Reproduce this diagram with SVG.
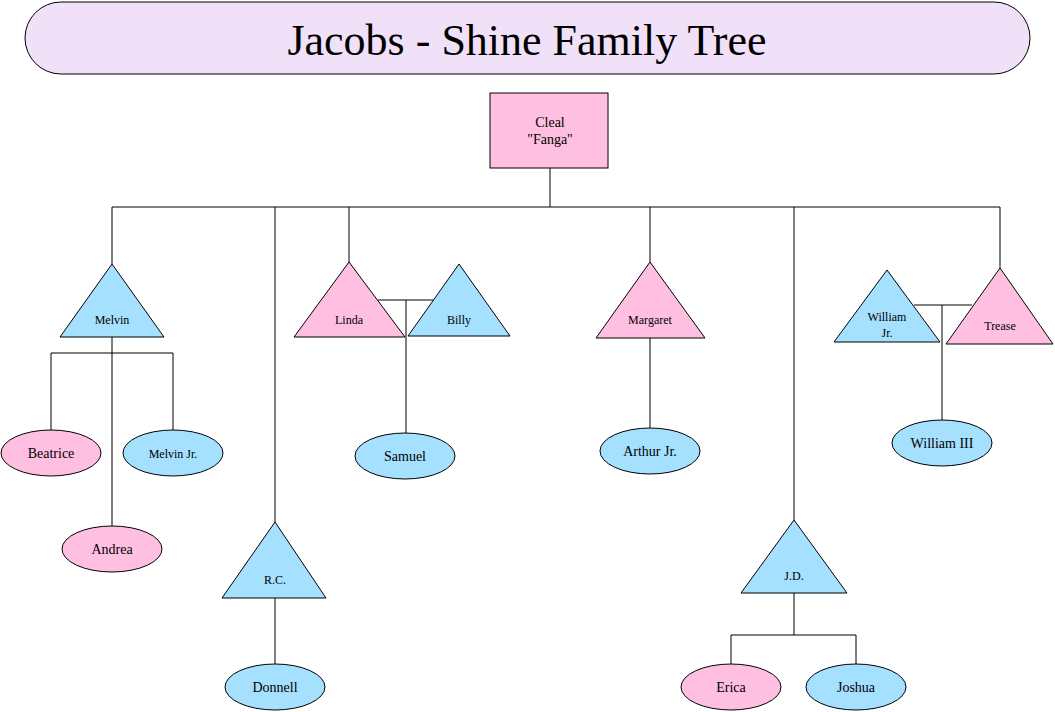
<svg xmlns="http://www.w3.org/2000/svg" width="1055" height="712" viewBox="0 0 1055 712">
<style>
.p{fill:#FFBFE0;stroke:#000;stroke-width:1}
.b{fill:#A6E0FF;stroke:#000;stroke-width:1}
text{font-family:"Liberation Serif",serif;text-anchor:middle;fill:#000}
.s{font-size:12px}
.m{font-size:14px}
#conn line{stroke:#000;stroke-width:1}
</style>
<rect width="1055" height="712" fill="#fff"/>
<g id="title"><rect x="25" y="2" width="1005" height="72" rx="36" fill="#F0E0F8" stroke="#000"/><text x="527" y="55" font-size="44">Jacobs - Shine Family Tree</text></g>
<g id="conn">
<line x1="550" y1="168" x2="550" y2="207"/><line x1="112" y1="207" x2="1000" y2="207"/>
<line x1="112" y1="207" x2="112" y2="264"/><line x1="275" y1="207" x2="275" y2="522"/>
<line x1="349" y1="207" x2="349" y2="262"/><line x1="650" y1="207" x2="650" y2="262"/>
<line x1="794" y1="207" x2="794" y2="520"/><line x1="1000" y1="207" x2="1000" y2="268"/>
<line x1="112" y1="337" x2="112" y2="527"/><line x1="51" y1="353" x2="173" y2="353"/>
<line x1="51" y1="353" x2="51" y2="430"/><line x1="173" y1="353" x2="173" y2="430"/>
<line x1="378" y1="300" x2="433" y2="300"/><line x1="406" y1="300" x2="406" y2="433"/>
<line x1="650" y1="338" x2="650" y2="428"/>
<line x1="914" y1="305" x2="972" y2="305"/><line x1="942" y1="305" x2="942" y2="420"/>
<line x1="275" y1="598" x2="275" y2="664"/>
<line x1="794" y1="593" x2="794" y2="635"/><line x1="731" y1="635" x2="856" y2="635"/>
<line x1="731" y1="635" x2="731" y2="664"/><line x1="856" y1="635" x2="856" y2="664"/>
</g>
<g id="cleal"><rect class="p" x="490" y="93" width="118" height="75"/><text class="m" x="550" y="127">Cleal</text><text class="m" x="550" y="144">"Fanga"</text></g>
<g id="melvin"><polygon class="b" points="112,264 60,337 164,337"/><text class="s" x="112" y="324">Melvin</text></g>
<g id="linda"><polygon class="p" points="349,262 294,337 405,337"/><text class="s" x="349" y="324">Linda</text></g>
<g id="billy"><polygon class="b" points="459,264 408,336 510,336"/><text class="s" x="459" y="324">Billy</text></g>
<g id="margaret"><polygon class="p" points="650,262 596,338 705,338"/><text class="s" x="650" y="324">Margaret</text></g>
<g id="williamjr"><polygon class="b" points="887,270 834,342 940,342"/><text class="s" x="887" y="321">William</text><text class="s" x="887" y="337">Jr.</text></g>
<g id="trease"><polygon class="p" points="1000,268 946,344 1053,344"/><text class="s" x="1000" y="330">Trease</text></g>
<g id="rc"><polygon class="b" points="275,522 222,598 326,598"/><text class="s" x="275" y="584">R.C.</text></g>
<g id="jd"><polygon class="b" points="794,520 741,593 847,593"/><text class="s" x="794" y="580">J.D.</text></g>
<g id="beatrice"><ellipse class="p" cx="51" cy="453" rx="50" ry="23"/><text class="m" x="51" y="458">Beatrice</text></g>
<g id="melvinjr"><ellipse class="b" cx="173" cy="453" rx="50" ry="23"/><text class="s" x="173" y="458">Melvin Jr.</text></g>
<g id="andrea"><ellipse class="p" cx="112" cy="549" rx="50" ry="23"/><text class="m" x="112" y="554">Andrea</text></g>
<g id="samuel"><ellipse class="b" cx="405" cy="456" rx="50" ry="23"/><text class="m" x="405" y="461">Samuel</text></g>
<g id="arthurjr"><ellipse class="b" cx="650" cy="451" rx="50" ry="23"/><text class="m" x="650" y="456">Arthur Jr.</text></g>
<g id="williamiii"><ellipse class="b" cx="942" cy="443" rx="50" ry="23"/><text class="m" x="942" y="448">William III</text></g>
<g id="donnell"><ellipse class="b" cx="275" cy="687" rx="50" ry="23"/><text class="m" x="275" y="692">Donnell</text></g>
<g id="erica"><ellipse class="p" cx="731" cy="687" rx="50" ry="23"/><text class="m" x="731" y="692">Erica</text></g>
<g id="joshua"><ellipse class="b" cx="856" cy="687" rx="50" ry="23"/><text class="m" x="856" y="692">Joshua</text></g>
</svg>
